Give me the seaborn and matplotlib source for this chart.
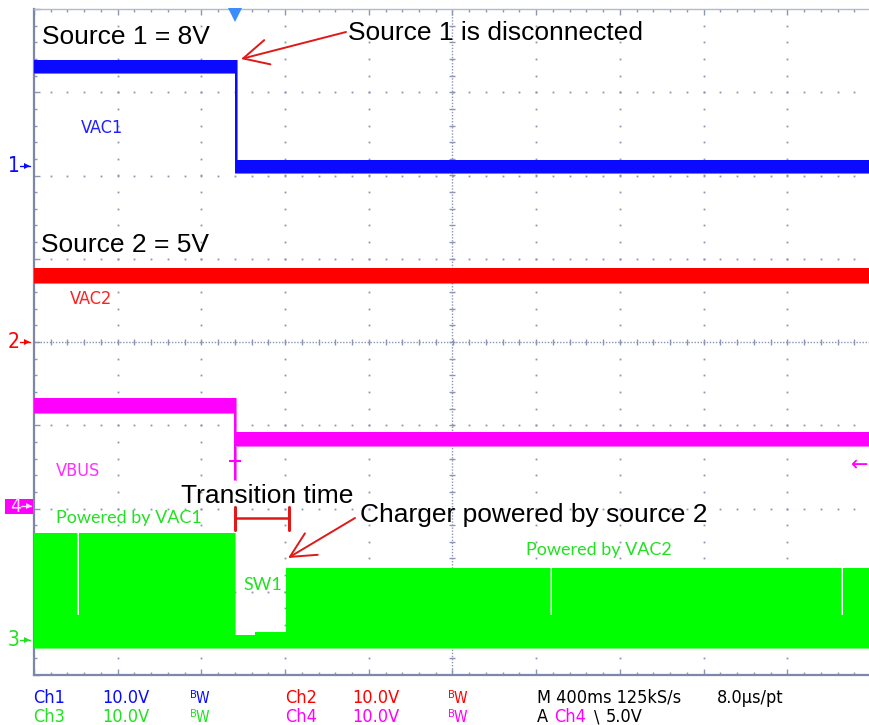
import numpy as np
import pandas as pd
import matplotlib
matplotlib.use("Agg")
import matplotlib.pyplot as plt
import seaborn as sns
from matplotlib import font_manager as fm
from matplotlib.patches import Rectangle

# ---------------- data (scope divisions: x 0..10, y 0..8) ----------------
ch1_t  = [0.0, 2.401, 2.425, 10.2]
ch1_lo = [7.23, 6.03, 6.03, 6.03]
ch1_hi = [7.39, 7.39, 6.19, 6.19]

ch2_t  = [0.0, 10.2]
ch2_lo = [4.71, 4.71]
ch2_hi = [4.89, 4.89]

ch4_t  = [0.0, 2.39, 2.415, 10.2]
ch4_lo = [3.15, 2.34, 2.75, 2.75]
ch4_hi = [3.33, 3.33, 2.92, 2.92]

ch3_t  = [0.0, 0.515, 0.54, 2.401, 2.64, 3.005, 6.165, 6.19, 9.64, 9.665, 10.2]
ch3_lo = [0.32, 0.32, 0.32, 0.32, 0.32, 0.32, 0.32, 0.32, 0.32, 0.32, 0.32]
ch3_hi = [1.71, 0.72, 1.71, 0.48, 0.52, 1.29, 0.72, 1.29, 0.72, 1.29, 1.29]

channels = ["VAC1", "VAC2", "VBUS", "SW1"]
ground_levels = [6.11, 4.0, 2.04, 0.42]      # ch1, ch2, ch4, ch3 markers
ground_names = ["1", "2", "4", "3"]
trigger_pos = 2.401
trigger_level = 2.52

bottom_row1 = ["Ch1", "10.0V", "Bw", "Ch2", "10.0V", "Bw", "M 400ms 125kS/s", "8.0\u00b5s/pt"]
bottom_row2 = ["Ch3", "10.0V", "Bw", "Ch4", "10.0V", "Bw", "A", "Ch4", "\\", "5.0V"]

# ---------------- styling ----------------
BLUE, RED, MAG, GRN = "#0a0aff", "#ff0000", "#ff00ff", "#00ff00"
LBL_GRN = "#22e022"
GRID = "#8c94b4"
ARROW_RED = "#e01818"

sns.set_theme(style="white")
plt.rcParams["font.family"] = ["Liberation Sans", "DejaVu Sans"]

# find a narrow font for the scope read-outs, if one is installed
scope_fp = None
for key in ["LiberationSansNarrow-Regular", "DejaVuSansCondensed.ttf", "RobotoCondensed-Regular",
            "Roboto_Condensed-Regular", "OpenSans_Condensed-Regular", "NotoSans-Condensed",
            "Condensed", "Narrow"]:
    for f in fm.fontManager.ttflist:
        if key in f.fname and "Bold" not in f.fname and "Italic" not in f.fname \
                and "Oblique" not in f.fname and "Light" not in f.fname:
            scope_fp = f.fname
            break
    if scope_fp:
        break
print("scope font:", scope_fp)

def sfont(size):
    if scope_fp:
        return fm.FontProperties(fname=scope_fp, size=size)
    return fm.FontProperties(family="DejaVu Sans", size=size * 0.9)

W, H = 869, 725
fig = plt.figure(figsize=(W / 100, H / 100), dpi=100)
fig.patch.set_facecolor("white")
X0, DX = 34.0, 83.7
Y0, DY = 675.0, 83.25
ax = fig.add_axes([X0 / W, (H - Y0) / H, 10 * DX / W, 8 * DY / H])
ax.set_facecolor("white")
ax.set_xlim(0, 10)
ax.set_ylim(0, 8)

def P(px, py):
    return ((px - X0) / DX, (Y0 - py) / DY)

# graticule dots
xs_fine = np.arange(0.2, 10.0, 0.2)
ys_fine = np.arange(0.2, 8.0, 0.2)
for gx in [1, 2, 3, 4, 6, 7, 8, 9]:
    ax.plot(np.full_like(ys_fine, gx), ys_fine, ls="none", marker="s", ms=1.3,
            color=GRID, mew=0, zorder=1)
for gy in [1, 2, 3, 5, 6, 7]:
    ax.plot(xs_fine, np.full_like(xs_fine, gy), ls="none", marker="s", ms=1.3,
            color=GRID, mew=0, zorder=1)
# center cross lines
ax.axvline(5, color=GRID, lw=1.0, ls=(0, (1, 1.2)), zorder=1)
ax.axhline(4, color=GRID, lw=1.0, ls=(0, (1, 1.2)), zorder=1)
ax.plot(np.full_like(ys_fine, 5), ys_fine, ls="none", marker="_", ms=5, color=GRID, mew=1, zorder=1)
ax.plot(xs_fine, np.full_like(xs_fine, 4), ls="none", marker="|", ms=5, color=GRID, mew=1, zorder=1)

# spines / ticks
for s in ["left", "bottom"]:
    ax.spines[s].set_color("#7e87aa")
    ax.spines[s].set_linewidth(1.6)
ax.spines["top"].set_color("#b4b8c8")
ax.spines["top"].set_linewidth(1.0)
ax.spines["right"].set_visible(False)
ax.set_xticks(np.arange(0, 11, 1))
ax.set_yticks(np.arange(0, 9, 1))
ax.set_xticks(xs_fine, minor=True)
ax.set_yticks(ys_fine, minor=True)
ax.tick_params(which="both", direction="in", top=True, bottom=True, left=True, right=False,
               labelbottom=False, labelleft=False, color=GRID, width=1.0)
ax.tick_params(which="major", length=4)
ax.tick_params(which="minor", length=2.5)

# traces
traces = [(ch1_t, ch1_lo, ch1_hi, BLUE, "VAC1"),
          (ch2_t, ch2_lo, ch2_hi, RED, "VAC2"),
          (ch4_t, ch4_lo, ch4_hi, MAG, "VBUS"),
          (ch3_t, ch3_lo, ch3_hi, GRN, "SW1")]
rows = []
for t, lo, hi, c, name in traces:
    ax.fill_between(t, lo, hi, step="post", color=c, lw=0, zorder=3)
    for ti, v in zip(t, hi):
        rows.append({"t": ti, "v": v, "ch": name, "edge": "hi"})
    for ti, v in zip(t, lo):
        rows.append({"t": ti, "v": v, "ch": name, "edge": "lo"})
df = pd.DataFrame(rows)
sns.lineplot(data=df, x="t", y="v", hue="ch", units="edge", estimator=None,
             palette={"VAC1": BLUE, "VAC2": RED, "VBUS": MAG, "SW1": GRN},
             drawstyle="steps-post", lw=0.4, legend=False, ax=ax, zorder=3)
ax.set_xlabel("")
ax.set_ylabel("")
ax.set_xlim(0, 10)
ax.set_ylim(0, 8)

# markers on traces
ax.plot(*P(235, 461), marker="+", ms=9, mew=1.5, color=MAG, zorder=4, clip_on=False)
ax.plot(trigger_pos, 7.93, marker="v", ms=10, color="#3a8cff", mew=0, zorder=5, clip_on=False)
ax.text(*P(869, 465), "\u2190", color=MAG, fontsize=15, ha="right", va="center",
        family="DejaVu Sans", zorder=5)

# ground markers at left
gcol = {"1": BLUE, "2": RED, "4": MAG, "3": LBL_GRN}
for n, lv in zip(ground_names, ground_levels):
    if n == "4":
        fig.patches.append(Rectangle((5 / W, 1 - 514 / H), 28 / W, 15 / H, transform=fig.transFigure,
                                     facecolor=MAG, edgecolor="none", zorder=2))
        fig.text(10 / W, 1 - 507 / H, n, color="#ffe0ff", fontproperties=sfont(14),
                 ha="left", va="center", zorder=3)
        fig.lines.append(plt.Line2D([21 / W, 31 / W], [1 - 506 / H, 1 - 506 / H],
                                    transform=fig.transFigure, color="#ffe0ff", lw=1, zorder=3))
        fig.lines.append(plt.Line2D([29 / W], [1 - 506 / H], transform=fig.transFigure,
                                    marker=">", ms=4, mew=0, color="#ffe0ff", zorder=3))
    else:
        ax.text(-0.17, lv, n, color=gcol[n], fontproperties=sfont(15), ha="right", va="center",
                clip_on=False)
        ax.plot(-0.08, lv, marker=">", ms=4, color=gcol[n], clip_on=False, mew=0)
        ax.plot([-0.17, -0.05], [lv, lv], color=gcol[n], lw=1, clip_on=False)

# channel labels
ax.text(*P(81, 133), "VAC1", color="#2020ff", fontproperties=sfont(13), va="baseline")
ax.text(*P(70, 304), "VAC2", color="#ff2020", fontproperties=sfont(13), va="baseline")
ax.text(*P(56, 476), "VBUS", color="#ff30ff", fontproperties=sfont(13), va="baseline")
ax.text(*P(56, 523), "Powered by VAC1", color=LBL_GRN, fontsize=13, family="Lato", va="baseline")
ax.text(*P(243, 590), "SW1", color=LBL_GRN, fontsize=13, family="Lato", va="baseline")
ax.text(*P(526, 555), "Powered by VAC2", color=LBL_GRN, fontsize=13, family="Lato", va="baseline")

# annotations
ax.text(*P(42, 44), "Source 1 = 8V", color="black", fontsize=19, va="baseline", zorder=6)
ax.text(*P(348, 40), "Source 1 is disconnected", color="black", fontsize=19, va="baseline", zorder=6)
ax.text(*P(41, 252), "Source 2 = 5V", color="black", fontsize=19, va="baseline", zorder=6)
ax.text(*P(181, 503), "Transition time", color="black", fontsize=19, va="baseline", zorder=6)
ax.text(*P(360, 522), "Charger powered by source 2", color="black", fontsize=19, va="baseline", zorder=6)

arw = dict(arrowstyle="->,head_length=0.9,head_width=0.45", color=ARROW_RED, lw=1.4,
           mutation_scale=20, shrinkA=0, shrinkB=0)
ax.annotate("", xy=P(241, 59), xytext=P(346, 32), arrowprops=arw, zorder=6)
ax.annotate("", xy=P(288, 558), xytext=P(355, 518), arrowprops=arw, zorder=6)
# transition bracket
bx0, by = P(235, 518)
bx1, _ = P(289, 518)
_, byt = P(0, 507)
_, byb = P(0, 530)
ax.plot([bx0, bx1], [by, by], color=ARROW_RED, lw=1.8, zorder=6)
ax.plot([bx0, bx0], [byt, byb], color=ARROW_RED, lw=2.2, zorder=6)
ax.plot([bx1, bx1], [byt, byb], color=ARROW_RED, lw=2.2, zorder=6)

# bottom status rows
def ftext(px, py, s, color, size=13):
    fig.text(px / W, 1 - py / H, s, color=color, va="baseline", fontproperties=sfont(size))

def bw(px, py, color):
    ftext(px, py - 5, "B", color, size=8)
    ftext(px + 6, py, "W", color, size=11)

r1x = [33, 102, 190, 285, 352, 448, 537, 717]
r1c = [BLUE, BLUE, BLUE, RED, RED, RED, "black", "black"]
for x, s, c in zip(r1x, bottom_row1, r1c):
    if s == "Bw":
        bw(x, 703, c)
    else:
        ftext(x, 703, s, c)
r2x = [33, 102, 190, 285, 352, 448, 537, 554, 594, 606]
r2c = [LBL_GRN, LBL_GRN, LBL_GRN, MAG, MAG, MAG, "black", MAG, "black", "black"]
for x, s, c in zip(r2x, bottom_row2, r2c):
    if s == "Bw":
        bw(x, 722, c)
    else:
        ftext(x, 722, s, c)

fig.savefig("out.png", dpi=100, facecolor="white")
